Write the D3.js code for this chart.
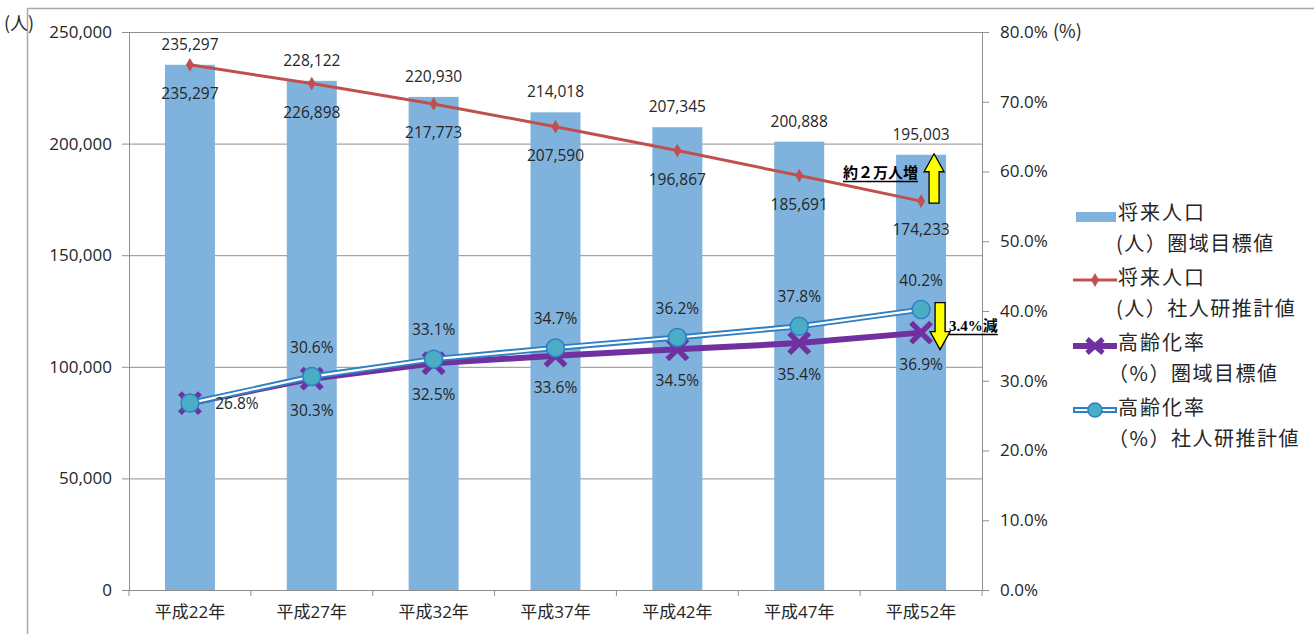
<!DOCTYPE html>
<html><head><meta charset="utf-8">
<script src="https://cdn.jsdelivr.net/npm/d3@7/dist/d3.min.js"></script>
<style>
html,body{margin:0;padding:0;background:#fff;}
svg{display:block;}
</style></head>
<body>
<svg id="chart" width="1314" height="634"></svg>
<script>
const categories = ["平成22年","平成27年","平成32年","平成37年","平成42年","平成47年","平成52年"];
const targetPop = [235297, 228122, 220930, 214018, 207345, 200888, 195003];
const ipssPop = [235297, 226898, 217773, 207590, 196867, 185691, 174233];
const targetAging = [26.8, 30.3, 32.5, 33.6, 34.5, 35.4, 36.9];
const ipssAging = [26.8, 30.6, 33.1, 34.7, 36.2, 37.8, 40.2];
const leftTicks = [0, 50000, 100000, 150000, 200000, 250000];
const rightTicks = [0, 10, 20, 30, 40, 50, 60, 70, 80];
const legendItems = [
  ["将来人口", "(人）圏域目標値"],
  ["将来人口", "(人）社人研推計値"],
  ["高齢化率", "（%）圏域目標値"],
  ["高齢化率", "（%）社人研推計値"]
];

const NUM = "'Open Sans','Noto Sans CJK JP',sans-serif";
const JP = "'Noto Sans CJK JP',sans-serif";
const C = {bar:"#7fb3dd", red:"#c0504d", purple:"#7030a0", blue:"#2e80c4", teal:"#4bacc6", axis:"#8f8f8f", text:"#262626"};

const svg = d3.select("#chart");
const L = 129, R = 982, T = 32, B = 590;

const x = d3.scaleBand().domain(categories).range([L, R]).padding(0);
const yL = d3.scaleLinear().domain([0, 250000]).range([B, T]);
const yR = d3.scaleLinear().domain([0, 80]).range([B, T]);
const cx = d => x(d) + x.bandwidth()/2;

// outer frame
svg.append("line").attr("x1",27).attr("x2",1314).attr("y1",8.5).attr("y2",8.5).attr("stroke","#a8a8a8").attr("stroke-width",1.5);
svg.append("line").attr("x1",27.5).attr("x2",27.5).attr("y1",8).attr("y2",634).attr("stroke","#a8a8a8").attr("stroke-width",1.5);

// gridlines
const grid = svg.append("g").attr("transform",`translate(${L},0)`)
  .call(d3.axisLeft(yL).tickValues(leftTicks).tickSize(-(R-L)).tickFormat(""));
grid.select(".domain").remove();
grid.selectAll("line").attr("stroke",C.axis).attr("stroke-width",1);

// bars
svg.append("g").selectAll("rect").data(categories).join("rect")
  .attr("x", d => cx(d) - 25).attr("width", 50)
  .attr("y", (d,i) => yL(targetPop[i])).attr("height", (d,i) => B - yL(targetPop[i]))
  .attr("fill", C.bar);

// left axis
const ax = svg.append("g").attr("transform",`translate(${L},0)`)
  .call(d3.axisLeft(yL).tickValues(leftTicks).tickSize(7).tickPadding(10).tickFormat(d3.format(",")));
ax.select(".domain").attr("stroke",C.axis);
ax.selectAll("line").attr("stroke",C.axis);
ax.selectAll("text").attr("font-family",NUM).attr("font-size",17).attr("fill",C.text);

// right axis
const axr = svg.append("g").attr("transform",`translate(${R},0)`)
  .call(d3.axisRight(yR).tickValues(rightTicks).tickSize(7).tickPadding(11).tickFormat(d => d.toFixed(1)+"%"));
axr.select(".domain").attr("stroke",C.axis);
axr.selectAll("line").attr("stroke",C.axis);
axr.selectAll("text").attr("font-family",NUM).attr("font-size",17).attr("fill",C.text);

// bottom axis
const axb = svg.append("g").attr("transform",`translate(0,${B})`)
  .call(d3.axisBottom(x).tickSize(0).tickPadding(16));
axb.select(".domain").attr("stroke",C.axis);
axb.selectAll("text").attr("font-family",NUM).attr("font-size",17).attr("fill",C.text);
svg.append("g").selectAll("line").data(categories.concat(["end"])).join("line")
  .attr("x1",(d,i)=> L + i*x.step()).attr("x2",(d,i)=> L + i*x.step())
  .attr("y1",B).attr("y2",B+6).attr("stroke",C.axis);

// unit labels
svg.append("text").attr("x",4).attr("y",30).attr("font-family",JP).attr("font-size",18).attr("fill",C.text).text("(人)");
svg.append("text").attr("x",1053).attr("y",38).attr("font-family",JP).attr("font-size",18).attr("fill",C.text).text("(%)");

// red line
svg.append("path").datum(ipssPop)
  .attr("d", d3.line().x((d,i)=>cx(categories[i])).y(d=>yL(d)))
  .attr("fill","none").attr("stroke",C.red).attr("stroke-width",3);
svg.append("g").selectAll("path").data(ipssPop).join("path")
  .attr("transform",(d,i)=>`translate(${cx(categories[i])},${yL(d)})`)
  .attr("d", d3.symbol(d3.symbolDiamond, 55)).attr("fill",C.red);

// purple line
svg.append("path").datum(targetAging)
  .attr("d", d3.line().x((d,i)=>cx(categories[i])).y(d=>yR(d)))
  .attr("fill","none").attr("stroke",C.purple).attr("stroke-width",6);
const xm = svg.append("g").selectAll("g").data(targetAging).join("g")
  .attr("transform",(d,i)=>`translate(${cx(categories[i])},${yR(d)})`);
xm.append("line").attr("x1",-10).attr("y1",-10).attr("x2",10).attr("y2",10).attr("stroke",C.purple).attr("stroke-width",5.5);
xm.append("line").attr("x1",-10).attr("y1",10).attr("x2",10).attr("y2",-10).attr("stroke",C.purple).attr("stroke-width",5.5);

// blue double line
const blueLine = d3.line().x((d,i)=>cx(categories[i])).y(d=>yR(d));
svg.append("path").datum(ipssAging).attr("d",blueLine).attr("fill","none").attr("stroke",C.blue).attr("stroke-width",6);
svg.append("path").datum(ipssAging).attr("d",blueLine).attr("fill","none").attr("stroke","#fff").attr("stroke-width",2.2);
svg.append("g").selectAll("circle").data(ipssAging).join("circle")
  .attr("cx",(d,i)=>cx(categories[i])).attr("cy",d=>yR(d)).attr("r",9)
  .attr("fill",C.teal).attr("stroke",C.blue).attr("stroke-width",1.5);

// data labels
const lab = (sel) => sel.attr("font-family",NUM).attr("font-size",15.5).attr("fill",C.text).attr("text-anchor","middle").attr("dominant-baseline","central");
lab(svg.append("g").selectAll("text").data(targetPop).join("text")
  .attr("x",(d,i)=>cx(categories[i])).attr("y",d=>yL(d)-21).text(d3.format(",")));
lab(svg.append("g").selectAll("text").data(ipssPop).join("text")
  .attr("x",(d,i)=>cx(categories[i])).attr("y",d=>yL(d)+28).text(d3.format(",")));
lab(svg.append("g").selectAll("text").data(ipssAging).join("text").filter((d,i)=>i>0)
  .attr("x",(d,i)=>cx(categories[i+1])).attr("y",d=>yR(d)-30).text(d=>d.toFixed(1)+"%"));
lab(svg.append("g").selectAll("text").data(targetAging).join("text")
  .attr("x",(d,i)=> i===0 ? cx(categories[i])+47 : cx(categories[i]))
  .attr("y",(d,i)=> i===0 ? yR(d) : yR(d)+31).text(d=>d.toFixed(1)+"%"));

// arrows
function arrow(xc, yTail, yTip){
  const dir = yTip < yTail ? -1 : 1;
  const headLen = 18, sw = 5, hw = 10;
  const yb = yTip - dir*headLen;
  const pts = [[xc-sw,yTail],[xc-sw,yb],[xc-hw,yb],[xc,yTip],[xc+hw,yb],[xc+sw,yb],[xc+sw,yTail]];
  svg.append("path").attr("d","M"+pts.map(p=>p.join(",")).join("L")+"Z")
    .attr("fill","#ffff00").attr("stroke","#000").attr("stroke-width",1.3);
}
const last = categories[categories.length-1];
arrow(cx(last)+13, yL(ipssPop[6])+2, yL(targetPop[6])-1);
arrow(cx(last)+19, yR(ipssAging[6])-7, yR(targetAging[6])+17);

const ann = (xp, yp, anchor, txt) => {
  const t = svg.append("text").attr("x",xp).attr("y",yp).attr("text-anchor",anchor)
    .attr("font-family","'Liberation Serif','Noto Sans CJK JP',serif").attr("font-weight","bold")
    .attr("font-size",15).attr("fill","#000").text(txt);
  const bb = t.node().getBBox();
  svg.append("line").attr("x1",bb.x).attr("x2",bb.x+bb.width).attr("y1",yp+3.5).attr("y2",yp+3.5).attr("stroke","#000").attr("stroke-width",1.3);
};
ann(918, 178, "end", "約２万人増");
ann(949, 331, "start", "3.4%減");

// legend
const lg = svg.append("g");
legendItems.forEach((item,i) => {
  const y0 = 211 + i*65;
  if (i===0) {
    lg.append("rect").attr("x",1076).attr("y",y0+1).attr("width",40).attr("height",10).attr("fill",C.bar);
  } else if (i===1) {
    lg.append("line").attr("x1",1073).attr("x2",1117).attr("y1",y0+4).attr("y2",y0+4).attr("stroke",C.red).attr("stroke-width",3);
    lg.append("path").attr("transform",`translate(1095,${y0+4})`).attr("d",d3.symbol(d3.symbolDiamond,55)).attr("fill",C.red);
  } else if (i===2) {
    lg.append("line").attr("x1",1073).attr("x2",1117).attr("y1",y0+5).attr("y2",y0+5).attr("stroke",C.purple).attr("stroke-width",6);
    const g = lg.append("g").attr("transform",`translate(1095,${y0+5})`);
    g.append("line").attr("x1",-8).attr("y1",-7).attr("x2",8).attr("y2",7).attr("stroke",C.purple).attr("stroke-width",5);
    g.append("line").attr("x1",-8).attr("y1",7).attr("x2",8).attr("y2",-7).attr("stroke",C.purple).attr("stroke-width",5);
  } else {
    lg.append("line").attr("x1",1073).attr("x2",1117).attr("y1",y0+4).attr("y2",y0+4).attr("stroke",C.blue).attr("stroke-width",6);
    lg.append("line").attr("x1",1075).attr("x2",1115).attr("y1",y0+4).attr("y2",y0+4).attr("stroke","#fff").attr("stroke-width",2.2);
    lg.append("circle").attr("cx",1095).attr("cy",y0+4).attr("r",7).attr("fill",C.teal).attr("stroke",C.blue).attr("stroke-width",1.5);
  }
  lg.append("text").attr("x",1118).attr("y",y0).attr("dominant-baseline","central")
    .attr("font-family",JP).attr("font-size",20).attr("letter-spacing",2).attr("fill",C.text).text(item[0]);
  lg.append("text").attr("x", i < 2 ? 1116 : 1108).attr("y",y0+31).attr("dominant-baseline","central")
    .attr("font-family",JP).attr("font-size",20).attr("letter-spacing",1.5).attr("fill",C.text).text(item[1]);
});
</script>
</body></html>
